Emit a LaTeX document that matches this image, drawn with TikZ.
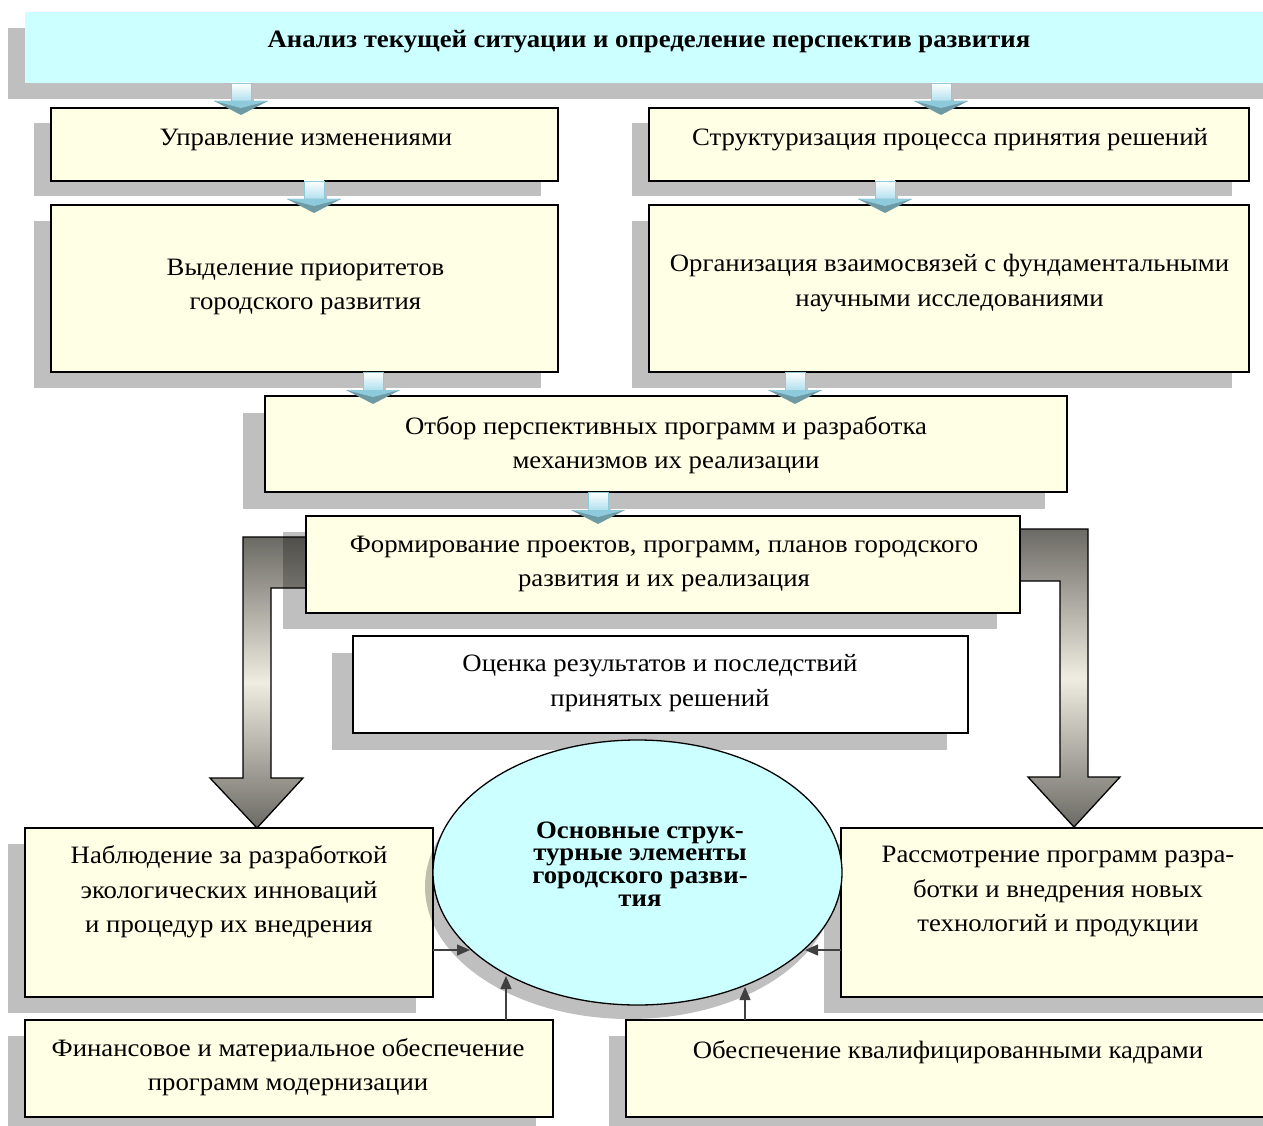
\documentclass[tikz,border=0pt]{standalone}
\usepackage{fontspec}
\setmainfont{Liberation Serif}[FakeStretch=1.07]
\usetikzlibrary{arrows.meta,shapes.geometric,calc}
\definecolor{cream}{HTML}{FFFFE6}
\definecolor{cyanbg}{HTML}{CCFFFF}
\definecolor{ardark}{HTML}{6B6A64}
\definecolor{arlight}{HTML}{EFECE1}
\definecolor{blueedge}{HTML}{8CCADC}
\definecolor{bluefill}{HTML}{B0E0EE}
\definecolor{bluedark}{HTML}{6E9AA3}
\definecolor{conncol}{HTML}{404040}
\pgfdeclareverticalshading{arrshade}{100bp}{color(0bp)=(ardark); color(25bp)=(ardark); color(50bp)=(arlight); color(75bp)=(ardark); color(100bp)=(ardark)}
\newcommand\negls{\lineskiplimit=-30pt\relax}
\newcommand\bx[8]{%
  \fill[shd] ({#3-#7},{#4+#8}) rectangle ({#5-#7},{#6+#8});
  \node[#1, minimum width={#5-#3}, minimum height={#6-#4}] (#2) at (#3,#4) {};
}
\newcommand\barr[2]{%
  \fill[black!25] ({#1-6},{#2+2}) rectangle ({#1+13},{#2+18});
  \draw[blueedge, line width=0.8pt, top color=white, bottom color=bluefill] ({#1-10},#2) rectangle ({#1+10},{#2+18});
  \fill[bluedark] ({#1-27},{#2+18}) -- ({#1+27},{#2+18}) -- (#1,{#2+32}) -- cycle;
  \fill[blueedge] ({#1-27},{#2+18}) -- ({#1+27},{#2+18}) -- (#1,{#2+25}) -- cycle;
}
\begin{document}
\begin{tikzpicture}[x=1pt,y=-1pt,
  box/.style={draw=black,line width=1.4pt,fill=cream,rectangle,inner sep=0pt,outer sep=0pt,anchor=north west},
  wbox/.style={box,fill=white},
  cbox/.style={box,draw=none,fill=cyanbg},
  shd/.style={fill=black,fill opacity=0.25},
  txt/.style={align=center,inner sep=0pt,font=\fontsize{25}{34.5}\selectfont},
  btxt/.style={align=center,inner sep=0pt,font=\bfseries\fontsize{25}{34.5}\selectfont},
  etxt/.style={align=center,inner sep=0pt,font=\bfseries\fontsize{25}{22.7}\selectfont\negls},
  conn/.style={draw=conncol,line width=1.3pt,-{Triangle[length=13pt,width=11pt]}},
  bendarrow/.style={draw=black,line width=1.3pt,shading=arrshade},
]
\useasboundingbox (0,0) rectangle (1263,1126);
\begin{scope}
\clip (0,0) rectangle (1263,1126);
% bent arrows
\draw[bendarrow] (330,537) -- (243,537) -- (243,778) -- (210,778) -- (257,828) -- (303,778) -- (271,778) -- (271,588) -- (330,588) -- cycle;
\draw[bendarrow] (990,529) -- (1088,529) -- (1088,777) -- (1120,777) -- (1074,827) -- (1028,777) -- (1060,777) -- (1060,581) -- (990,581) -- cycle;
% boxes
\bx{cbox}{top}{25}{12}{1290}{83}{17}{16}
\bx{box}{upr}{51}{108}{558}{181}{17}{15}
\bx{box}{str}{649}{108}{1249}{181}{17}{15}
\bx{box}{vyd}{51}{205}{558}{372}{17}{16}
\bx{box}{org}{649}{205}{1249}{372}{17}{16}
\bx{box}{otb}{265}{396}{1067}{492}{22}{17}
\bx{box}{form}{306}{516}{1020}{613}{23}{16}
\bx{wbox}{otsen}{353}{636}{968}{733}{21}{17}
\bx{box}{nab}{25}{828}{433}{997}{17}{16}
\bx{box}{rass}{841}{828}{1280}{997}{17}{16}
\bx{box}{fin}{25}{1020}{553}{1117}{17}{16}
\bx{box}{obes}{626}{1020}{1280}{1117}{17}{16}
% ellipse
\fill[shd] (629.5,886.5) ellipse [x radius=204.5, y radius=132.5];
\node[draw=black, line width=1.3pt, ellipse, fill=cyanbg, minimum width=409pt, minimum height=265pt, inner sep=0pt] (ell) at (637.5,872.5) {};
% blue arrows
\barr{241}{83}
\barr{941}{83}
\barr{314}{181}
\barr{885}{181}
\barr{373}{372}
\barr{795}{372}
\barr{598}{492}
% connectors
\coordinate (e1) at (470,950);
\coordinate (e2) at (506,976);
\coordinate (e3) at (805,950);
\coordinate (e4) at (745,987);
\draw[conn] (nab.east |- e1) -- (e1);
\draw[conn] (fin.north -| e2) -- (e2);
\draw[conn] (rass.west |- e3) -- (e3);
\draw[conn] (obes.north -| e4) -- (e4);
% texts
\node[btxt] (t-top) at (649,42) {Анализ текущей ситуации и определение перспектив развития};
\node[txt] (t-upr) at (306,140) {Управление изменениями};
\node[txt] (t-str) at (950,140) {Структуризация процесса принятия решений};
\node[txt] (t-vyd) at (305.5,287) {Выделение приоритетов\\городского развития};
\node[txt] (t-org) at (949.5,283) {Организация взаимосвязей с фундаментальными\\научными исследованиями};
\node[txt] (t-otb) at (666,445) {Отбор перспективных программ и разработка\\механизмов их реализации};
\node[txt] (t-form) at (664,564) {Формирование проектов, программ, планов городского\\развития и их реализация};
\node[txt] (t-otsen) at (660,683) {Оценка результатов и последствий\\принятых решений};
\node[txt] (t-nab) at (229,892) {Наблюдение за разработкой\\экологических инноваций\\и процедур их внедрения};
\node[txt] (t-rass) at (1058,892) {Рассмотрение программ разра-\\ботки и внедрения новых\\технологий и продукции};
\node[txt] (t-fin) at (288,1067) {Финансовое и материальное обеспечение\\программ модернизации};
\node[txt] (t-obes) at (948,1052) {Обеспечение квалифицированными кадрами};
\node[etxt] (t-ell) at (640,864) {Основные струк-\\турные элементы\\городского разви-\\тия};
\end{scope}
\end{tikzpicture}
\end{document}
